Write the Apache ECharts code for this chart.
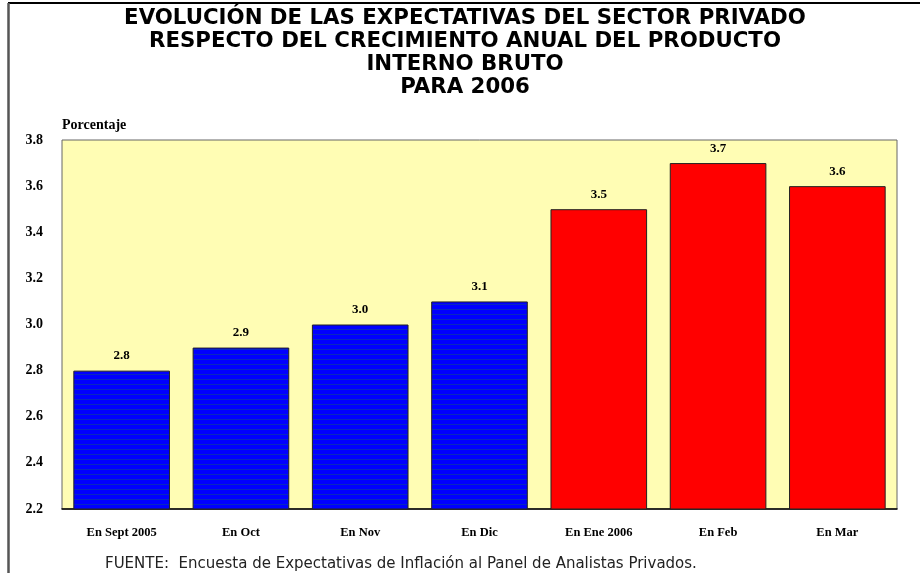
<!DOCTYPE html>
<html>
<head>
<meta charset="utf-8">
<script src="https://cdn.jsdelivr.net/npm/echarts@6/dist/echarts.min.js"></script>
<style>
  html, body { margin: 0; padding: 0; background: #fff; }
  #chart { width: 920px; height: 573px; }
</style>
</head>
<body>
<div id="chart"></div>
<script>
// datos del gráfico
var categorias = ['En Sept 2005', 'En Oct', 'En Nov', 'En Dic', 'En Ene 2006', 'En Feb', 'En Mar'];
var valores = [2.8, 2.9, 3.0, 3.1, 3.5, 3.7, 3.6];
var colores = ['azul', 'azul', 'azul', 'azul', 'rojo', 'rojo', 'rojo'];
var ejeY = { min: 2.2, max: 3.8, interval: 0.2 };

// patrón rayado de las barras azules
function patronAzul() {
    var c = document.createElement('canvas');
    c.width = 4;
    c.height = 5;
    var ctx = c.getContext('2d');
    ctx.fillStyle = '#0000FF';
    ctx.fillRect(0, 0, 4, 5);
    ctx.fillStyle = '#0828C0';
    ctx.fillRect(0, 4, 4, 1);
    return c;
}
var rayas = { image: patronAzul(), repeat: 'repeat' };

var chart = echarts.init(document.getElementById('chart'));
var serif = '"Liberation Serif", "Times New Roman", serif';

var option = {
    backgroundColor: '#fff',
    animation: false,
    title: {
        text: 'EVOLUCIÓN DE LAS EXPECTATIVAS DEL SECTOR PRIVADO\nRESPECTO DEL CRECIMIENTO ANUAL DEL PRODUCTO\nINTERNO BRUTO\nPARA 2006',
        left: 460,
        textAlign: 'center',
        top: 2,
        textStyle: {
            fontFamily: '"DejaVu Sans", sans-serif',
            fontWeight: 'bold',
            fontSize: 21.3,
            lineHeight: 23,
            color: '#000'
        }
    },
    grid: {
        left: 62,
        right: 23,
        top: 140,
        bottom: 64,
        show: true,
        backgroundColor: '#FFFDB4',
        borderColor: '#666',
        borderWidth: 1
    },
    xAxis: {
        type: 'category',
        data: categorias,
        axisLine: { lineStyle: { color: '#000', width: 1.5 } },
        axisTick: { alignWithLabel: true, length: 11, lineStyle: { color: '#555' } },
        axisLabel: {
            margin: 17,
            fontFamily: serif,
            fontWeight: 'bold',
            fontSize: 12.5,
            color: '#000'
        }
    },
    yAxis: {
        type: 'value',
        min: ejeY.min,
        max: ejeY.max,
        interval: ejeY.interval,
        name: 'Porcentaje',
        nameLocation: 'end',
        nameGap: 8,
        nameTextStyle: {
            align: 'left',
            fontFamily: serif,
            fontWeight: 'bold',
            fontSize: 14,
            color: '#000'
        },
        axisLine: { show: false },
        axisTick: { show: false },
        splitLine: { show: false },
        axisLabel: {
            margin: 19,
            fontFamily: serif,
            fontWeight: 'bold',
            fontSize: 14,
            color: '#000',
            formatter: function (v) { return v.toFixed(1); }
        }
    },
    series: [{
        type: 'bar',
        barWidth: '81%',
        data: valores.map(function (v, i) {
            return {
                value: v,
                itemStyle: { color: colores[i] === 'azul' ? rayas : '#FF0000' }
            };
        }),
        itemStyle: { borderColor: '#222', borderWidth: 1 },
        label: {
            show: true,
            position: 'top',
            distance: 8,
            fontFamily: serif,
            fontWeight: 'bold',
            fontSize: 13,
            color: '#000',
            formatter: function (p) { return p.value.toFixed(1); }
        }
    }],
    graphic: [
        {
            type: 'line',
            shape: { x1: 8, y1: 3, x2: 920, y2: 3 },
            style: { stroke: '#000', lineWidth: 2 }
        },
        {
            type: 'line',
            shape: { x1: 8.5, y1: 3, x2: 8.5, y2: 573 },
            style: { stroke: '#555', lineWidth: 2.5 }
        },
        {
            type: 'text',
            left: 105,
            top: 557,
            style: {
                text: 'FUENTE:  Encuesta de Expectativas de Inflación al Panel de Analistas Privados.',
                font: '15px "DejaVu Sans", sans-serif',
                fill: '#222'
            }
        }
    ]
};
chart.setOption(option);
</script>
</body>
</html>
